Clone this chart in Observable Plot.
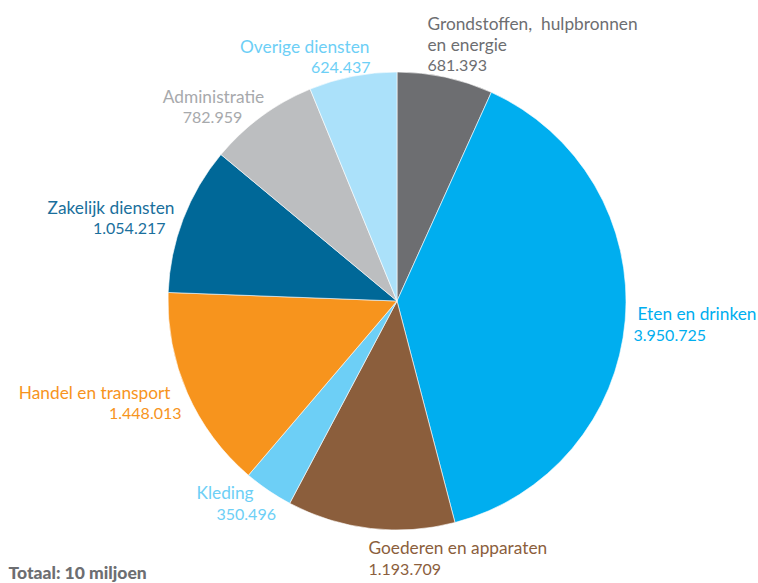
<!DOCTYPE html>
<html>
<head>
<meta charset="utf-8">
<script src="https://cdn.jsdelivr.net/npm/d3@7"></script>
<script src="https://cdn.jsdelivr.net/npm/@observablehq/plot@0.6"></script>
<style>
  html, body { margin: 0; padding: 0; background: #fff; }
  #chart svg { display: block; }
</style>
</head>
<body>
<div id="chart"></div>
<script>
// ---- data ----
const categories = [
  "Grondstoffen,  hulpbronnen\nen energie",
  "Eten en drinken",
  "Goederen en apparaten",
  "Kleding",
  "Handel en transport",
  "Zakelijk diensten",
  "Administratie",
  "Overige diensten"
];
const values = [681393, 3950725, 1193709, 350496, 1448013, 1054217, 782959, 624437];
const caption = "Totaal: 10 miljoen";

// ---- styles / layout ----
const sliceColors = ["#6d6e71", "#00aeef", "#8b5e3c", "#6dcff6", "#f7941d", "#006898", "#bcbec0", "#abe1fa"];
const textColors  = ["#6d6e71", "#00aeef", "#8b5e3c", "#6dcff6", "#f7941d", "#1a6f9c", "#a7a9ac", "#6dcff6"];
const pie = {cx: 397, cy: 301, r: 229};
// name: [x, y(baseline of last line), anchor], value: [x, y, anchor]
const labelLayout = [
  {n: [427, 50, "start"], v: [427, 70, "start"]},
  {n: [637, 319, "start"], v: [633, 340, "start"]},
  {n: [368, 553, "start"], v: [368, 574, "start"]},
  {n: [196, 498, "start"], v: [216, 519, "start"]},
  {n: [170, 398, "end"], v: [181, 418, "end"]},
  {n: [174, 213, "end"], v: [165, 233, "end"]},
  {n: [213, 102, "middle"], v: [212, 122, "middle"]},
  {n: [369, 52, "end"], v: [370, 72, "end"]}
];

const nl = d3.formatLocale({decimal: ",", thousands: ".", grouping: [3], currency: ["€", ""]});
const fmt = nl.format(",d");

const rows = categories.map((c, i) => ({
  name: c, value: values[i], i,
  nx: labelLayout[i].n[0], ny: labelLayout[i].n[1], na: labelLayout[i].n[2],
  vx: labelLayout[i].v[0], vy: labelLayout[i].v[1], va: labelLayout[i].v[2]
}));

const arcs = d3.pie().sort(null).value(d => d.value)(rows);

function pieMark(index, scales, channels, dimensions, context) {
  const g = d3.create("svg:g");
  const arc = d3.arc().innerRadius(0).outerRadius(pie.r);
  g.selectAll("path").data(arcs).join("path")
    .attr("transform", `translate(${scales.x(pie.cx)},${scales.y(pie.cy)})`)
    .attr("d", arc)
    .attr("fill", d => sliceColors[d.data.i])
    .attr("stroke", "#fff")
    .attr("stroke-width", 0.6);
  return g.node();
}

const font = "Lato, 'Open Sans', sans-serif";
const anchors = ["start", "middle", "end"];
const nameMarks = anchors.map(a => Plot.text(rows.filter(d => d.na === a), {
  x: "nx", y: "ny", text: "name", textAnchor: a, lineAnchor: "bottom", lineHeight: 1.18,
  fontSize: 17.3, fill: d => textColors[d.i]
}));
const valueMarks = anchors.map(a => Plot.text(rows.filter(d => d.va === a), {
  x: "vx", y: "vy", text: d => fmt(d.value), textAnchor: a, lineAnchor: "bottom",
  fontSize: 16, fill: d => textColors[d.i]
}));

const chart = Plot.plot({
  width: 758,
  height: 583,
  margin: 0,
  x: {type: "identity", axis: null},
  y: {type: "identity", axis: null},
  style: {fontFamily: font, background: "#fff"},
  marks: [
    pieMark,
    ...nameMarks,
    ...valueMarks,
    Plot.text([caption], {x: 8, y: 578, text: d => d, textAnchor: "start", lineAnchor: "bottom", fontSize: 17.5, fontWeight: 900, fill: "#6d6e71"})
  ]
});
document.getElementById("chart").append(chart);
</script>
</body>
</html>
